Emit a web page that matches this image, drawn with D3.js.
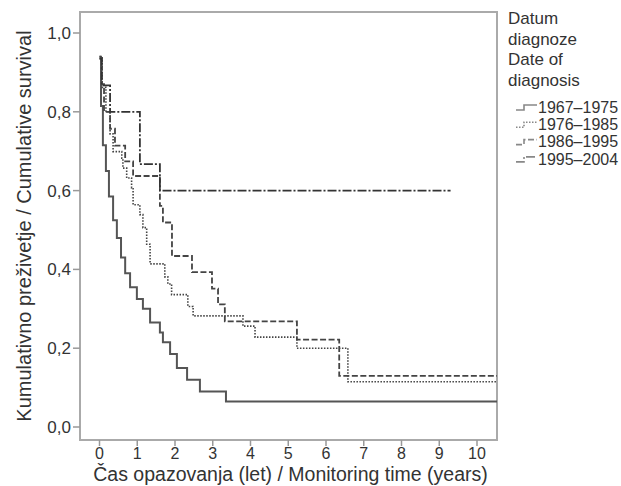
<!DOCTYPE html>
<html>
<head>
<meta charset="utf-8">
<script src="https://cdn.jsdelivr.net/npm/d3@7"></script>
<style>
  body { margin: 0; background: #fff; }
  text { font-family: "Liberation Sans", Arial, sans-serif; fill: #333; }
</style>
</head>
<body>
<svg id="chart" width="621" height="486"></svg>
<script>
// ---- data ----
const xTicks = [0, 1, 2, 3, 4, 5, 6, 7, 8, 9, 10];
const yTicks = [0, 0.2, 0.4, 0.6, 0.8, 1.0];
const groups = ["1967–1975", "1976–1985", "1986–1995", "1995–2004"];
const legendTitle = ["Datum", "diagnoze", "Date of", "diagnosis"];

// step times (years) and survival after each step
const t6775 = [0, 0.04, 0.09, 0.17, 0.25, 0.36, 0.46, 0.57, 0.68, 0.81, 0.99, 1.15, 1.34, 1.6, 1.68, 1.87, 2.05, 2.32, 2.66, 3.35];
const s6775 = [0.94, 0.815, 0.715, 0.65, 0.585, 0.525, 0.48, 0.43, 0.39, 0.355, 0.325, 0.30, 0.265, 0.24, 0.215, 0.185, 0.15, 0.12, 0.09, 0.065];

const t7685 = [0, 0.07, 0.17, 0.28, 0.36, 0.59, 0.62, 0.72, 0.85, 0.89, 1.07, 1.15, 1.25, 1.34, 1.73, 1.81, 1.91, 2.34, 2.48, 3.8, 4.12, 5.23, 6.58];
const s7685 = [0.94, 0.862, 0.80, 0.744, 0.699, 0.682, 0.657, 0.632, 0.607, 0.564, 0.539, 0.506, 0.464, 0.414, 0.381, 0.363, 0.336, 0.306, 0.282, 0.256, 0.228, 0.20, 0.115];

const t8695 = [0, 0.06, 0.12, 0.28, 0.41, 0.68, 0.89, 1.6, 1.68, 1.92, 2.45, 2.98, 3.14, 3.32, 5.23, 6.35];
const s8695 = [0.935, 0.87, 0.80, 0.757, 0.714, 0.674, 0.637, 0.561, 0.519, 0.434, 0.393, 0.351, 0.311, 0.268, 0.222, 0.13];

const t9504 = [0, 0.06, 0.28, 1.07, 1.6];
const s9504 = [0.935, 0.867, 0.80, 0.667, 0.60];

const lastTime = [10.53, 10.53, 10.53, 9.3];

// ---- layout ----
const svg = d3.select("#chart");
const box = { left: 80, top: 12, right: 497, bottom: 440 };

const x = d3.scaleLinear().domain([0, 10]).range([99.5, 477]);
const y = d3.scaleLinear().domain([0, 1]).range([427, 33]);

svg.append("rect")
  .attr("x", box.left).attr("y", box.top)
  .attr("width", box.right - box.left).attr("height", box.bottom - box.top)
  .attr("fill", "none").attr("stroke", "#aaa").attr("stroke-width", 2);

// y axis ticks
const fmt = d3.format(".1f");
svg.selectAll(".ytick").data(yTicks).join("line")
  .attr("x1", box.left - 7).attr("x2", box.left)
  .attr("y1", d => y(d)).attr("y2", d => y(d))
  .attr("stroke", "#999").attr("stroke-width", 1.5);
svg.selectAll(".ylab").data(yTicks).join("text")
  .attr("x", box.left - 9).attr("y", d => y(d)).attr("dy", "0.35em")
  .attr("text-anchor", "end").style("font-size", "17px")
  .text(d => fmt(d).replace(".", ","));

// x axis ticks
svg.selectAll(".xtick").data(xTicks).join("line")
  .attr("x1", d => x(d)).attr("x2", d => x(d))
  .attr("y1", box.bottom).attr("y2", box.bottom + 6)
  .attr("stroke", "#999").attr("stroke-width", 1.5);
svg.selectAll(".xlab").data(xTicks).join("text")
  .attr("x", d => x(d)).attr("y", 459)
  .attr("text-anchor", "middle").style("font-size", "16px")
  .text(d => d);

// axis titles
svg.append("text")
  .attr("x", (box.left + box.right) / 2 + 2).attr("y", 481)
  .attr("text-anchor", "middle").style("font-size", "19.5px")
  .text("Čas opazovanja (let) / Monitoring time (years)");
svg.append("text")
  .attr("transform", `translate(31,${(box.top + box.bottom) / 2}) rotate(-90)`)
  .attr("text-anchor", "middle").style("font-size", "20px")
  .text("Kumulativno preživetje / Cumulative survival");

// ---- survival curves ----
const series = [
  { t: t6775, s: s6775, dash: null, color: "#555", width: 2 },
  { t: t7685, s: s7685, dash: "1.5,1.5", color: "#444", width: 1.6 },
  { t: t8695, s: s8695, dash: "6,2.5", color: "#444", width: 1.8 },
  { t: t9504, s: s9504, dash: "9,2,2,2", color: "#333", width: 1.8 }
];

const line = d3.line().x(d => x(d[0])).y(d => y(d[1])).curve(d3.curveStepAfter);

series.forEach((ser, i) => {
  const pts = ser.t.map((t, j) => [t, ser.s[j]]);
  pts.push([lastTime[i], ser.s[ser.s.length - 1]]);
  svg.append("path")
    .attr("d", line(pts))
    .attr("fill", "none")
    .attr("stroke", ser.color)
    .attr("stroke-width", ser.width)
    .attr("stroke-dasharray", ser.dash);
});

// ---- legend ----
svg.selectAll(".lt").data(legendTitle).join("text")
  .attr("x", 508).attr("y", (d, i) => 24 + i * 20.7)
  .style("font-size", "17px")
  .text(d => d);

const ly = i => 107 + i * 17.3;
series.forEach((ser, i) => {
  svg.append("path")
    .attr("d", `M516,${ly(i) + 3}H524V${ly(i) - 2}H537`)
    .attr("fill", "none")
    .attr("stroke", "#888")
    .attr("stroke-width", 1.6)
    .attr("stroke-dasharray", ser.dash);
});
svg.selectAll(".lg").data(groups).join("text")
  .attr("x", 538).attr("y", (d, i) => ly(i)).attr("dy", "0.35em")
  .style("font-size", "16px")
  .text(d => d);
</script>
</body>
</html>
